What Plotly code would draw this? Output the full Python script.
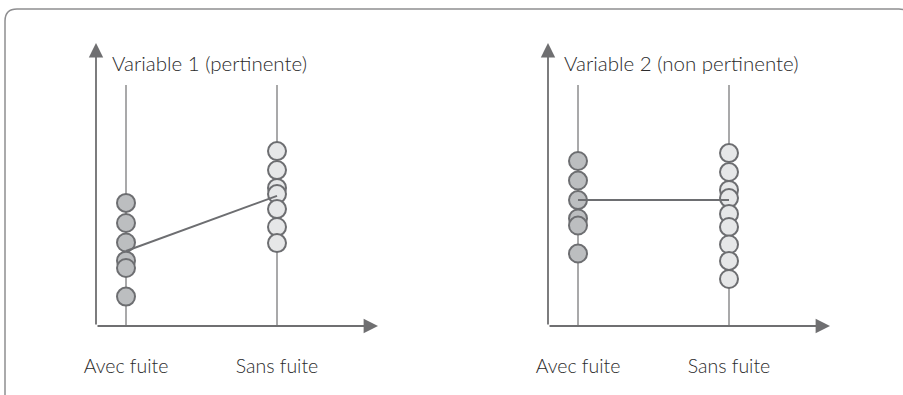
import plotly.graph_objects as go

# ---------------- data ----------------
categories = ["Avec fuite", "Sans fuite"]
panel_titles = ["Variable 1 (pertinente)", "Variable 2 (non pertinente)"]

# Panel 1 (pertinente)
v1_avec = [4.35, 3.64, 2.95, 2.31, 2.05, 1.04]
v1_sans = [6.18, 5.51, 4.88, 4.66, 4.13, 3.50, 2.93]
v1_link = [2.65, 4.60]

# Panel 2 (non pertinente)
v2_avec = [5.83, 5.14, 4.45, 3.80, 3.55, 2.56]
v2_sans = [6.11, 5.44, 4.81, 4.52, 3.96, 3.50, 2.88, 2.30, 1.66]
v2_link = [4.45, 4.45]

# ---------------- style ----------------
W, H = 903, 395
FONT = "Lato"
TXT = "#2b2b2b"
AXIS_C = "#6f6f71"
STEM_C = "#8c8c8e"
EDGE_C = "#6d6e71"
FILL_AVEC = "#bcbec0"
FILL_SANS = "#e6e7e8"

XR = [-30 / 151, 252 / 151]
YR = [0, 10]
STEM_TOP = 8.52

def px_x(p):
    return p / W

def px_y(p):
    return 1 - p / H

fig = go.Figure()

panels = [
    (v1_avec, v1_sans, v1_link, 96, "x", "y"),
    (v2_avec, v2_sans, v2_link, 548, "x2", "y2"),
]

for i, (avec, sans, link, left_px, xa, ya) in enumerate(panels):
    # stems
    for xi in (0, 1):
        fig.add_trace(go.Scatter(
            x=[xi, xi], y=[0, STEM_TOP], mode="lines",
            line=dict(color=STEM_C, width=1.5), xaxis=xa, yaxis=ya,
            hoverinfo="skip", showlegend=False))
    # dots
    fig.add_trace(go.Scatter(
        x=[0] * len(avec), y=avec, mode="markers",
        marker=dict(size=18, color=FILL_AVEC, line=dict(color=EDGE_C, width=2)),
        xaxis=xa, yaxis=ya, showlegend=False))
    fig.add_trace(go.Scatter(
        x=[1] * len(sans), y=sans, mode="markers",
        marker=dict(size=18, color=FILL_SANS, line=dict(color=EDGE_C, width=2)),
        xaxis=xa, yaxis=ya, showlegend=False))
    # link line
    fig.add_trace(go.Scatter(
        x=[0, 1], y=link, mode="lines",
        line=dict(color=EDGE_C, width=2), xaxis=xa, yaxis=ya,
        hoverinfo="skip", showlegend=False))

    sfx = "" if i == 0 else "2"
    dom = [px_x(left_px), px_x(left_px + 282)]
    fig.update_layout(**{
        "xaxis" + sfx: dict(domain=dom, range=XR, showgrid=False, zeroline=False,
                             showline=False, tickvals=[0, 1], ticktext=categories,
                             ticks="", ticklabelstandoff=26, automargin=False,
                             tickfont=dict(family=FONT, size=19.5, color=TXT, weight=300),
                             fixedrange=True, anchor="y" + sfx),
        "yaxis" + sfx: dict(domain=[px_y(326), px_y(43)], range=YR, showgrid=False,
                             zeroline=False, showline=False, showticklabels=False,
                             automargin=False,
                             ticks="", fixedrange=True, anchor="x" + sfx),
    })
    xr = "x" + sfx
    yr = "y" + sfx
    # axis arrows
    fig.add_annotation(x=XR[1], y=0, ax=XR[0], ay=0, xref=xr, yref=yr, axref=xr, ayref=yr,
                       showarrow=True, arrowhead=2, arrowsize=1.6, arrowwidth=1.8,
                       arrowcolor=AXIS_C, text="")
    fig.add_annotation(x=XR[0], y=YR[1], ax=XR[0], ay=0, xref=xr, yref=yr, axref=xr, ayref=yr,
                       showarrow=True, arrowhead=2, arrowsize=1.6, arrowwidth=1.8,
                       arrowcolor=AXIS_C, text="")
    # title
    fig.add_annotation(x=px_x(left_px + 14), y=px_y(63), xref="paper", yref="paper",
                       xanchor="left", yanchor="middle", showarrow=False,
                       text=panel_titles[i],
                       font=dict(family=FONT, size=20.5, color=TXT, weight=300))

# rounded frame (open at the bottom)
x0, x1 = 5 / W, 911 / W
yt = px_y(9)
yb = px_y(420)
rx, ry = 12 / W, 12 / H
path = (f"M {x0},{yb} L {x0},{yt - ry} Q {x0},{yt} {x0 + rx},{yt} "
        f"L {x1 - rx},{yt} Q {x1},{yt} {x1},{yt - ry} L {x1},{yb}")
fig.add_shape(type="path", path=path, xref="paper", yref="paper",
              line=dict(color="#8e8e90", width=1.5), layer="below")

fig.update_layout(width=W, height=H,
                  margin=dict(l=0, r=0, t=0, b=0, pad=0, autoexpand=False),
                  paper_bgcolor="white", plot_bgcolor="white", showlegend=False)

fig.write_html("out.html", config={"displayModeBar": False},
               post_script="document.body.style.margin='0';document.body.style.overflow='hidden';")
